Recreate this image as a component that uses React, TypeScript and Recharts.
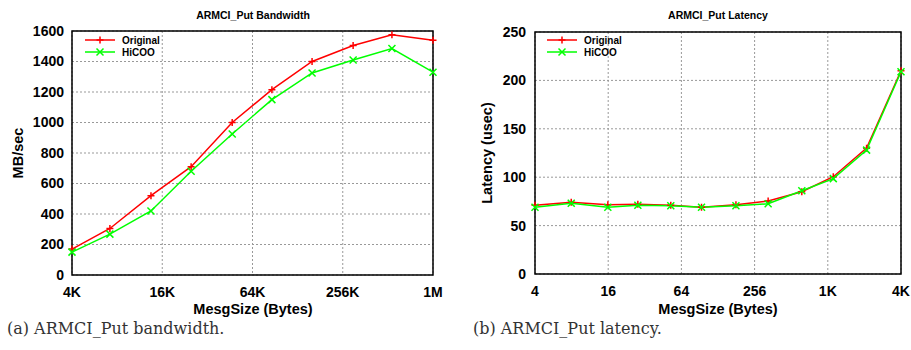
import React from 'react';
import { LineChart, Line, XAxis, YAxis, CartesianGrid, ReferenceArea, Legend } from 'recharts';

// ---- Bandwidth panel data ----
const bwSizeLog2 = [12, 12.84, 13.75, 14.64, 15.55, 16.43, 17.32, 18.23, 19.09, 20];
const bwOriginal = [170, 305, 520, 710, 1000, 1215, 1400, 1505, 1575, 1540];
const bwHiCOO = [150, 268, 420, 680, 925, 1150, 1325, 1410, 1485, 1330];
const bwXTicks = [12, 14, 16, 18, 20];
const bwXLabels = ['4K', '16K', '64K', '256K', '1M'];
const bwYTicks = [0, 200, 400, 600, 800, 1000, 1200, 1400, 1600];

// ---- Latency panel data ----
const latSizeLog2 = [2, 2.99, 3.99, 4.81, 5.71, 6.55, 7.49, 8.37, 9.29, 10.15, 11.06, 12];
const latOriginal = [71, 74, 71.5, 72, 71, 69, 71.5, 75.5, 85, 100.5, 130, 210];
const latHiCOO = [69, 73, 69, 71, 70.5, 69, 70.5, 72.5, 86, 98.5, 128, 209];
const latXTicks = [2, 4, 6, 8, 10, 12];
const latXLabels = ['4', '16', '64', '256', '1K', '4K'];
const latYTicks = [0, 50, 100, 150, 200, 250];

const seriesNames = ['Original', 'HiCOO'];
const RED = '#ff0000';
const GREEN = '#00ff00';
const SANS = '"Liberation Sans", Arial, Helvetica, sans-serif';

const PlusDot = (props: any) => {
  const { cx, cy } = props;
  if (cx == null || cy == null) return null;
  const s = 3.5;
  return <path d={`M${cx - s},${cy}H${cx + s}M${cx},${cy - s}V${cy + s}`} stroke={RED} strokeWidth={1.5} fill="none" />;
};
const CrossDot = (props: any) => {
  const { cx, cy } = props;
  if (cx == null || cy == null) return null;
  const s = 3.5;
  return <path d={`M${cx - s},${cy - s}L${cx + s},${cy + s}M${cx - s},${cy + s}L${cx + s},${cy - s}`} stroke={GREEN} strokeWidth={1.5} fill="none" />;
};

const LegendBox = () => (
  <svg width={120} height={28} style={{ display: 'block' }}>
    <line x1={0} y1={6} x2={30} y2={6} stroke={RED} strokeWidth={1.5} />
    <PlusDot cx={15} cy={6} />
    <text x={37} y={6} dy="0.35em" fontFamily={SANS} fontWeight="bold" fontSize={10} fill="#000">{seriesNames[0]}</text>
    <line x1={0} y1={18} x2={30} y2={18} stroke={GREEN} strokeWidth={1.5} />
    <CrossDot cx={15} cy={18} />
    <text x={37} y={18} dy="0.35em" fontFamily={SANS} fontWeight="bold" fontSize={10} fill="#000">{seriesNames[1]}</text>
  </svg>
);

type PanelProps = {
  left: number;
  width: number;
  margin: { top: number; right: number; bottom: number; left: number };
  yAxisWidth: number;
  xs: number[];
  orig: number[];
  hi: number[];
  xTicks: number[];
  xLabels: string[];
  yTicks: number[];
  legendLeft: number;
  yTickMargin: number;
};

const Panel = (p: PanelProps) => {
  const data = p.xs.map((x, i) => ({ x, original: p.orig[i], hicoo: p.hi[i] }));
  const xMin = p.xTicks[0];
  const xMax = p.xTicks[p.xTicks.length - 1];
  const yMin = p.yTicks[0];
  const yMax = p.yTicks[p.yTicks.length - 1];
  const tickStyle = { fontSize: 14, fontWeight: 'bold', fill: '#000', fontFamily: SANS };
  return (
    <div style={{ position: 'absolute', left: p.left, top: 0 }}>
      <LineChart width={p.width} height={320} data={data} margin={p.margin}>
        <CartesianGrid stroke="#999" strokeDasharray="2 2" />
        <XAxis
          dataKey="x"
          type="number"
          domain={[xMin, xMax]}
          ticks={p.xTicks}
          tickFormatter={(v: number) => p.xLabels[p.xTicks.indexOf(v)] ?? ''}
          tick={tickStyle}
          tickLine={false}
          axisLine={false}
          tickMargin={6}
          height={30}
          interval={0}
        />
        <YAxis
          type="number"
          domain={[yMin, yMax]}
          ticks={p.yTicks}
          tick={tickStyle}
          tickLine={false}
          axisLine={false}
          tickMargin={p.yTickMargin}
          width={p.yAxisWidth}
          interval={0}
        />
        <ReferenceArea x1={xMin} x2={xMax} y1={yMin} y2={yMax} fill="none" stroke="#000" strokeWidth={1.5} ifOverflow="visible" />
        <Legend
          layout="vertical"
          align="center"
          verticalAlign="middle"
          content={() => <LegendBox />}
          wrapperStyle={{ left: p.legendLeft, top: 34, width: 120 }}
        />
        <Line
          dataKey="original"
          name={seriesNames[0]}
          stroke={RED}
          strokeWidth={1.5}
          dot={<PlusDot />}
          activeDot={false}
          isAnimationActive={false}
          type="linear"
        />
        <Line
          dataKey="hicoo"
          name={seriesNames[1]}
          stroke={GREEN}
          strokeWidth={1.5}
          dot={<CrossDot />}
          activeDot={false}
          isAnimationActive={false}
          type="linear"
        />
      </LineChart>
    </div>
  );
};

const textBold = (extra: React.CSSProperties): React.CSSProperties => ({
  position: 'absolute',
  fontFamily: SANS,
  fontWeight: 'bold',
  color: '#000',
  whiteSpace: 'nowrap',
  lineHeight: 1,
  transform: 'translate(-50%, -50%)',
  ...extra,
});

export default function App() {
  return (
    <div style={{ position: 'absolute', left: 0, top: 0, width: 911, height: 350, background: '#fff', overflow: 'hidden' }}>
      <Panel
        left={0}
        width={455}
        margin={{ top: 31, right: 22, bottom: 15, left: 12 }}
        yAxisWidth={60}
        xs={bwSizeLog2}
        orig={bwOriginal}
        hi={bwHiCOO}
        xTicks={bwXTicks}
        xLabels={bwXLabels}
        yTicks={bwYTicks}
        legendLeft={85}
        yTickMargin={2}
      />
      <Panel
        left={455}
        width={456}
        margin={{ top: 32, right: 10, bottom: 16, left: 10 }}
        yAxisWidth={70}
        xs={latSizeLog2}
        orig={latOriginal}
        hi={latHiCOO}
        xTicks={latXTicks}
        xLabels={latXLabels}
        yTicks={latYTicks}
        legendLeft={92}
        yTickMargin={3}
      />
      {/* titles */}
      <div style={textBold({ left: 253, top: 15, fontSize: 10.5 })}>ARMCI_Put Bandwidth</div>
      <div style={textBold({ left: 718, top: 15, fontSize: 10.5 })}>ARMCI_Put Latency</div>
      {/* x axis titles */}
      <div style={textBold({ left: 253, top: 308.5, fontSize: 14.5 })}>MesgSize (Bytes)</div>
      <div style={textBold({ left: 718, top: 308.5, fontSize: 14.5 })}>MesgSize (Bytes)</div>
      {/* y axis titles */}
      <div style={textBold({ left: 18, top: 153, fontSize: 14.5, transform: 'translate(-50%, -50%) rotate(-90deg)' })}>MB/sec</div>
      <div style={textBold({ left: 487, top: 153, fontSize: 14.5, transform: 'translate(-50%, -50%) rotate(-90deg)' })}>Latency (usec)</div>
      {/* captions */}
      <div style={{ position: 'absolute', left: 7, top: 319, fontFamily: '"DejaVu Serif", serif', fontSize: 16, lineHeight: '20px', color: '#333', whiteSpace: 'nowrap' }}>
        (a) ARMCI_Put bandwidth.
      </div>
      <div style={{ position: 'absolute', left: 473, top: 319, fontFamily: '"DejaVu Serif", serif', fontSize: 16, lineHeight: '20px', color: '#333', whiteSpace: 'nowrap' }}>
        (b) ARMCI_Put latency.
      </div>
    </div>
  );
}
